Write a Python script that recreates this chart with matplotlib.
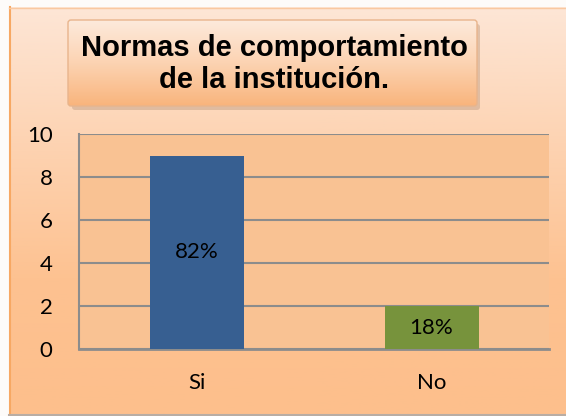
import numpy as np
import matplotlib.pyplot as plt
from matplotlib.patches import FancyBboxPatch
from matplotlib.colors import LinearSegmentedColormap

categories = ['Si', 'No']
values = [9, 2]
labels = ['82%', '18%']
bar_colors = ['#375f91', '#77933c']
yticks = [0, 2, 4, 6, 8, 10]

fig = plt.figure(figsize=(5.66, 4.16), dpi=100)
fig.patch.set_facecolor('#fdfbf9')

# background frame with vertical gradient
bg = fig.add_axes([0, 0, 1, 1], zorder=0)
bg.set_xlim(0, 566)
bg.set_ylim(416, 0)
bg.axis('off')
grad = np.linspace(0, 1, 256).reshape(-1, 1)
cmap = LinearSegmentedColormap.from_list('bg', ['#fde6d6', '#fdd3b2', '#fdc291', '#fdbf8c'])
bg.imshow(grad, cmap=cmap, aspect='auto', extent=[9, 566, 414, 7], zorder=1)
bg.plot([9.5, 9.5], [7, 414], color='#f7a863', lw=1.5, zorder=2)
bg.plot([9, 566], [7.5, 7.5], color='#f9c8a0', lw=1, zorder=2)
bg.plot([9, 566], [414.5, 414.5], color='#b9ada4', lw=1.5, zorder=2)

# title box with shadow and gradient
bg.add_patch(FancyBboxPatch((72, 24), 408, 86, boxstyle='round,pad=0,rounding_size=3',
                            fc='#c9a58a', ec='none', alpha=0.55, zorder=3))
tcmap = LinearSegmentedColormap.from_list('tb', ['#fdeadc', '#fcd3b2', '#f9b47c'])
im = bg.imshow(grad, cmap=tcmap, aspect='auto', extent=[68, 477, 106, 20], zorder=4)
box = FancyBboxPatch((68, 20), 409, 86, boxstyle='round,pad=0,rounding_size=3',
                     fc='none', ec='#e8b48c', lw=1, zorder=5)
bg.add_patch(box)
im.set_clip_path(box)
bg.text(274, 64, 'Normas de comportamiento\nde la institución.', ha='center', va='center',
        fontsize=21, fontweight='bold', family='Liberation Sans', linespacing=1.15, zorder=6)

ax = fig.add_axes([79 / 566, 1 - 349 / 416, 470 / 566, 215 / 416], zorder=2)
ax.set_facecolor('#f9c293')
x = np.arange(len(categories))
bars = ax.bar(x, values, width=0.4, color=bar_colors, zorder=3)
for b, lab in zip(bars, labels):
    ax.text(b.get_x() + b.get_width() / 2, b.get_height() / 2, lab, ha='center', va='center',
            fontsize=16, family='Lato', zorder=4)

ax.set_xlim(-0.5, 1.5)
ax.set_ylim(0, 10)
ax.set_yticks(yticks)
ax.yaxis.grid(True, color='#8c8c8c', lw=1.5, zorder=1)
ax.set_axisbelow(True)
ax.set_xticks(x)
ax.set_xticklabels(categories)
for s in ['top', 'right']:
    ax.spines[s].set_visible(False)
ax.spines['left'].set_color('#8c8c8c')
ax.spines['bottom'].set_color('#8c8c8c')
ax.spines['left'].set_linewidth(1.5)
ax.spines['bottom'].set_linewidth(2)
ax.tick_params(axis='both', length=0, labelsize=16)
ax.tick_params(axis='y', pad=19)
ax.tick_params(axis='x', pad=17)
for t in ax.get_xticklabels() + ax.get_yticklabels():
    t.set_family('Lato')

fig.savefig('out.png', dpi=100)
